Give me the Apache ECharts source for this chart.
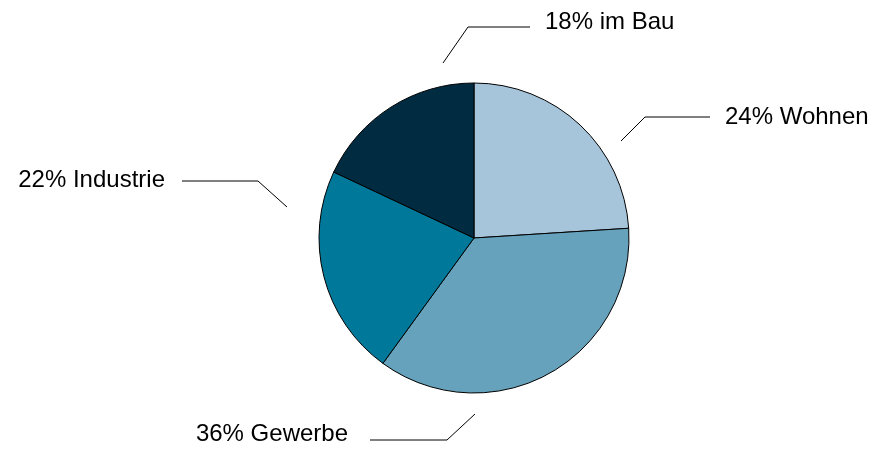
<!DOCTYPE html>
<html>
<head>
<meta charset="utf-8">
<script src="https://cdn.jsdelivr.net/npm/echarts@6/dist/echarts.min.js"></script>
<style>
  html, body { margin: 0; padding: 0; background: #fff; }
  #chart { width: 870px; height: 451px; }
</style>
</head>
<body>
<div id="chart"></div>
<script>
// Daten
var categories = ['Wohnen', 'Gewerbe', 'Industrie', 'im Bau'];
var values = [24, 36, 22, 18];
var colors = ['#a6c5da', '#67a2bc', '#00789a', '#002b40'];

// Lage der Beschriftungen relativ zur Kreismitte (Start, Knick, Ende der Linie, Textanker)
var cx = 474, cy = 238;
var labelPos = [
    {line: [[147, -97], [171, -121], [236, -121]], text: [251, -121], align: 'left'},
    {line: [[1, 176], [-27, 202], [-104, 202]], text: [-126, 196], align: 'right'},
    {line: [[-187, -31], [-216, -57], [-292, -57]], text: [-309, -58], align: 'right'},
    {line: [[-31, -175], [-6, -211], [56, -211]], text: [71, -216], align: 'left'}
];

var myChart = echarts.init(document.getElementById('chart'));

var option = {
    backgroundColor: '#fff',
    animation: false,
    series: [{
        type: 'pie',
        center: [cx, cy],
        radius: 155,
        startAngle: 90,
        clockwise: true,
        avoidLabelOverlap: false,
        data: categories.map(function (name, i) {
            return {name: name, value: values[i], itemStyle: {color: colors[i]}};
        }),
        itemStyle: {
            borderColor: '#000',
            borderWidth: 1
        },
        label: {
            show: true,
            position: 'outside',
            formatter: '{c}% {b}',
            color: '#000',
            fontFamily: 'Liberation Sans, Arial, Helvetica, sans-serif',
            fontSize: 24
        },
        labelLine: {
            show: true,
            length: 20,
            length2: 40,
            lineStyle: {color: '#000', width: 1}
        },
        emphasis: {disabled: true},
        labelLayout: function (params) {
            var p = labelPos[params.dataIndex];
            return {
                x: cx + p.text[0],
                y: cy + p.text[1],
                align: p.align,
                verticalAlign: 'middle',
                labelLinePoints: p.line.map(function (pt) {
                    return [cx + pt[0], cy + pt[1]];
                })
            };
        }
    }]
};

window.addEventListener('resize', function () {
    myChart.resize();
});
myChart.setOption(option);
</script>
</body>
</html>
